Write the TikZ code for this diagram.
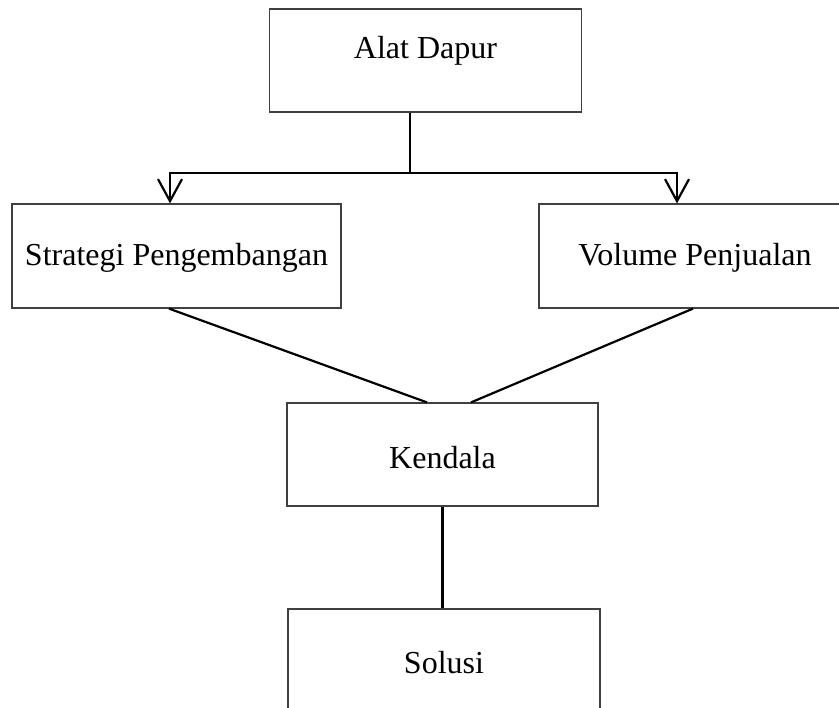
\documentclass[tikz,border=0pt]{standalone}
\usepackage{fontspec}
\setmainfont{Liberation Serif}
\usetikzlibrary{arrows.meta,calc}

\tikzset{
	box/.style={draw=black!75, line width=0.6pt, minimum width=156pt, minimum height=51.5pt, inner sep=0pt, font=\fontsize{16}{19}\selectfont},
	link/.style={line width=1.1pt, black}
}

\begin{document}
\begin{tikzpicture}[x=0.5pt, y=-0.5pt, >={Straight Barb[length=11pt, width=12pt]}]

\useasboundingbox (0, 0) rectangle (839, 707);
\clip (0, 0) rectangle (839, 707);

% Boxes
\node[box, text height=6pt, text depth=8pt] (alat) at (425.5, 60.5) {Alat Dapur};
\node[box, minimum width=164.5pt, minimum height=52pt, text height=9pt, text depth=0pt] (strat) at (176.5, 256) {Strategi Pengembangan};
\node[box, minimum height=52pt, text height=9pt, text depth=0pt] (vol) at (695, 256) {Volume Penjualan};
\node[box, minimum width=155.5pt, text height=13.5pt, text depth=0pt] (kend) at (442.5, 454.5) {Kendala};
\node[box, text height=12.5pt, text depth=0pt] (sol) at (444, 660.5) {Solusi};

% Arrows from the top box
\coordinate (split) at (410, 173);
\draw[link] ($(alat.south)+(-15.5, 0)$) -- (split);
\draw[link, ->] (split) -| ($(strat.north)+(-6.5, 0)$);
\draw[link, ->] (split) -| ($(vol.north)+(-18, 0)$);

% Lines down to Kendala and Solusi
\draw[link] ($(strat.south)+(-7.5, 0)$) -- ($(kend.north)+(-15.5, 0)$);
\draw[link] ($(vol.south)+(-2, 0)$) -- ($(kend.north)+(28.5, 0)$);
\draw[link] (kend.south) -- (kend.south |- sol.north);

\end{tikzpicture}
\end{document}
